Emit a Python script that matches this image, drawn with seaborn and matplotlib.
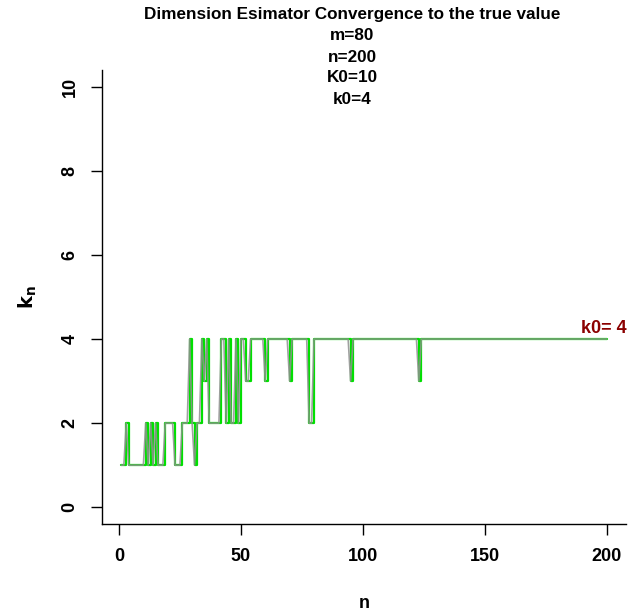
import matplotlib
matplotlib.use("Agg")
import matplotlib.pyplot as plt
import seaborn as sns
import numpy as np
import pandas as pd

# ---- data ----
n_vals = list(range(1, 201))
kn_head = [1, 1, 2, 1, 1, 1, 1, 1, 1, 1,
           2, 1, 2, 1, 2, 1, 1, 1, 2, 2,
           2, 2, 1, 1, 1, 2, 2, 2, 4, 2,
           1, 2, 2, 4, 3, 4, 2, 2, 2, 2,
           2, 4, 4, 2, 4, 2, 2, 4, 2, 4,
           4, 3, 3, 4, 4, 4, 4, 4, 4, 3,
           4, 4, 4, 4, 4, 4, 4, 4, 4, 3,
           4, 4, 4, 4, 4, 4, 4, 2, 2, 4]
kn_mid = [4, 4, 4, 4, 4, 4, 4, 4, 4, 4, 4, 4, 4, 4, 3,
          4, 4, 4, 4, 4, 4, 4, 4, 4, 4, 4, 4, 4, 4, 4, 4, 4, 4, 4, 4, 4, 4, 4, 4, 4, 4, 4, 3]
kn_tail = [4] * (200 - len(kn_head) - len(kn_mid))
kn_vals = kn_head + kn_mid + kn_tail

title_lines = ["Dimension Esimator Convergence to the true value", "m=80", "n=200", "K0=10", "k0=4"]
x_ticks = [0, 50, 100, 150, 200]
y_ticks = [0, 2, 4, 6, 8, 10]
k0_true = 4

df = pd.DataFrame({"n": n_vals, "kn": kn_vals})

sns.set_style("ticks")
plt.rcParams["font.family"] = ["Liberation Sans", "DejaVu Sans"]
plt.rcParams["text.color"] = "black"
plt.rcParams["axes.labelcolor"] = "black"
plt.rcParams["xtick.color"] = "black"
plt.rcParams["ytick.color"] = "black"

fig = plt.figure(figsize=(6.28, 6.16), dpi=100)
ax = fig.add_axes([102 / 628, 1 - 524 / 616, (626 - 102) / 628, (524 - 70) / 616])

sns.lineplot(data=df, x="n", y="kn", ax=ax, color="#00E000", lw=1.6,
             drawstyle="steps-post", estimator=None)
sns.lineplot(data=df, x="n", y="kn", ax=ax, color="#909090", lw=1.2, alpha=0.85,
             estimator=None)

ax.set_xlim(1 - 199 * 0.04, 200 + 199 * 0.04)
ax.set_ylim(-0.4, 10.4)
ax.set_xticks(x_ticks)
ax.set_yticks(y_ticks)
ax.set_xticklabels([str(t) for t in x_ticks], fontsize=13, fontweight="bold")
ax.set_yticklabels([str(t) for t in y_ticks], fontsize=13, fontweight="bold",
                   rotation=90, va="center")
ax.tick_params(axis="both", length=8, width=1, color="black", pad=9)
for s in ["top", "right"]:
    ax.spines[s].set_visible(False)
for s in ["left", "bottom"]:
    ax.spines[s].set_linewidth(1)
    ax.spines[s].set_color("black")

ax.set_xlabel("n", fontsize=13, fontweight="bold", labelpad=22)
ax.set_ylabel(r"$\mathbf{k_n}$", fontsize=14, labelpad=16)

ax.text(199, k0_true + 0.25, "k0= 4", color="#8B0000", fontsize=13,
        fontweight="bold", ha="center", va="center", clip_on=False)

ys = [15, 36, 57, 78, 100]
for line, y in zip(title_lines, ys):
    fig.text(352 / 628, 1 - y / 616, line, ha="center", va="center",
             fontsize=12.3, fontweight="bold", color="black")

fig.savefig("out.png", dpi=100)
